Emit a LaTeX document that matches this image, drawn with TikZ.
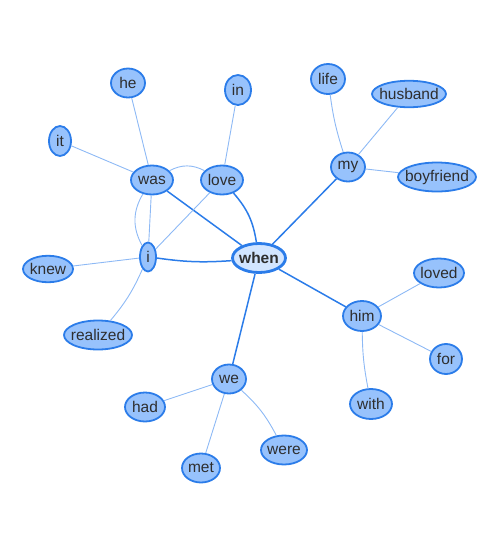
\documentclass[tikz,border=0pt]{standalone}
\usepackage{fontspec}
\setmainfont{Liberation Sans}
\usetikzlibrary{shapes.geometric}
\definecolor{nodefill}{HTML}{97C2FC}
\definecolor{rootfill}{HTML}{D2E5FF}
\definecolor{nodeline}{HTML}{2B7CE9}
\definecolor{twigline}{HTML}{8DB9F5}
\definecolor{wordtext}{HTML}{2E2E2E}

\begin{document}
\begin{tikzpicture}[x=1pt, y=-1pt,
  word/.style={ellipse, draw=nodeline, line width=1.8pt, fill=nodefill,
    text=wordtext, font=\fontsize{15.5}{18}\selectfont,
    inner xsep=-8pt, inner ysep=0pt, minimum height=29pt},
  root/.style={word, fill=rootfill, line width=2.8pt,
    font=\fontsize{15.5}{18}\selectfont\bfseries},
  trunk/.style={draw=nodeline, line width=1.5pt},
  twig/.style={draw=twigline, line width=0.9pt}]

\useasboundingbox (0,0) rectangle (500,550);

% centre word
\node[root, minimum width=53pt] (when) at (259,258) {when};

% left branch
\node[word, minimum width=42pt] (was) at (152,180) {was};
\node[word, minimum width=42pt] (love) at (222,180) {love};
\node[word, minimum width=34pt] (he) at (128,83) {he};
\node[word, minimum width=26pt, minimum height=30pt] (in) at (238,90) {in};
\node[word, minimum width=22pt, minimum height=30pt] (it) at (60,141) {it};
\node[word, minimum width=16pt] (i) at (148,257) {i};
\node[word, minimum width=50pt, minimum height=26.5pt] (knew) at (48,269) {knew};
\node[word, minimum width=68pt] (realized) at (98,335) {realized};

% upper right branch
\node[word, minimum width=34pt, minimum height=30pt] (life) at (328,79) {life};
\node[word, minimum width=74pt, minimum height=26.5pt] (husband) at (409,94) {husband};
\node[word, minimum width=34pt] (my) at (348,167) {my};
\node[word, minimum width=78pt] (boyfriend) at (437,177) {boyfriend};

% lower right branch
\node[word, minimum width=38pt, minimum height=30pt] (him) at (362,316) {him};
\node[word, minimum width=50pt] (loved) at (439,273) {loved};
\node[word, minimum width=32pt, minimum height=30pt] (for) at (446,359) {for};
\node[word, minimum width=42pt, minimum height=30pt] (with) at (371,404) {with};

% lower branch
\node[word, minimum width=34pt] (we) at (229,379) {we};
\node[word, minimum width=40pt] (had) at (145,407) {had};
\node[word, minimum width=38pt] (met) at (201,468) {met};
\node[word, minimum width=46pt] (were) at (284,450) {were};

% edges from the centre
\draw[trunk] (when) -- (was);
\draw[trunk] (love) to[bend left=16] (when);
\draw[trunk] (i) to[bend right=6] (when);
\draw[trunk] (when) -- (my);
\draw[trunk] (when) -- (him);
\draw[trunk] (when) -- (we);

% outer edges
\draw[twig] (was) -- (he);
\draw[twig] (was) -- (it);
\draw[twig] (was) to[bend left=28] (love);
\draw[twig] (was) -- (i);
\draw[twig] (was) to[bend right=30] (i);
\draw[twig] (love) -- (in);
\draw[twig] (love) -- (i);
\draw[twig] (i) -- (knew);
\draw[twig] (i) to[bend left=8] (realized);
\draw[twig] (my) to[bend left=5] (life);
\draw[twig] (my) -- (husband);
\draw[twig] (my) -- (boyfriend);
\draw[twig] (him) -- (loved);
\draw[twig] (him) -- (for);
\draw[twig] (him) to[bend right=5] (with);
\draw[twig] (we) -- (had);
\draw[twig] (we) -- (met);
\draw[twig] (we) to[bend left=10] (were);

\end{tikzpicture}
\end{document}
